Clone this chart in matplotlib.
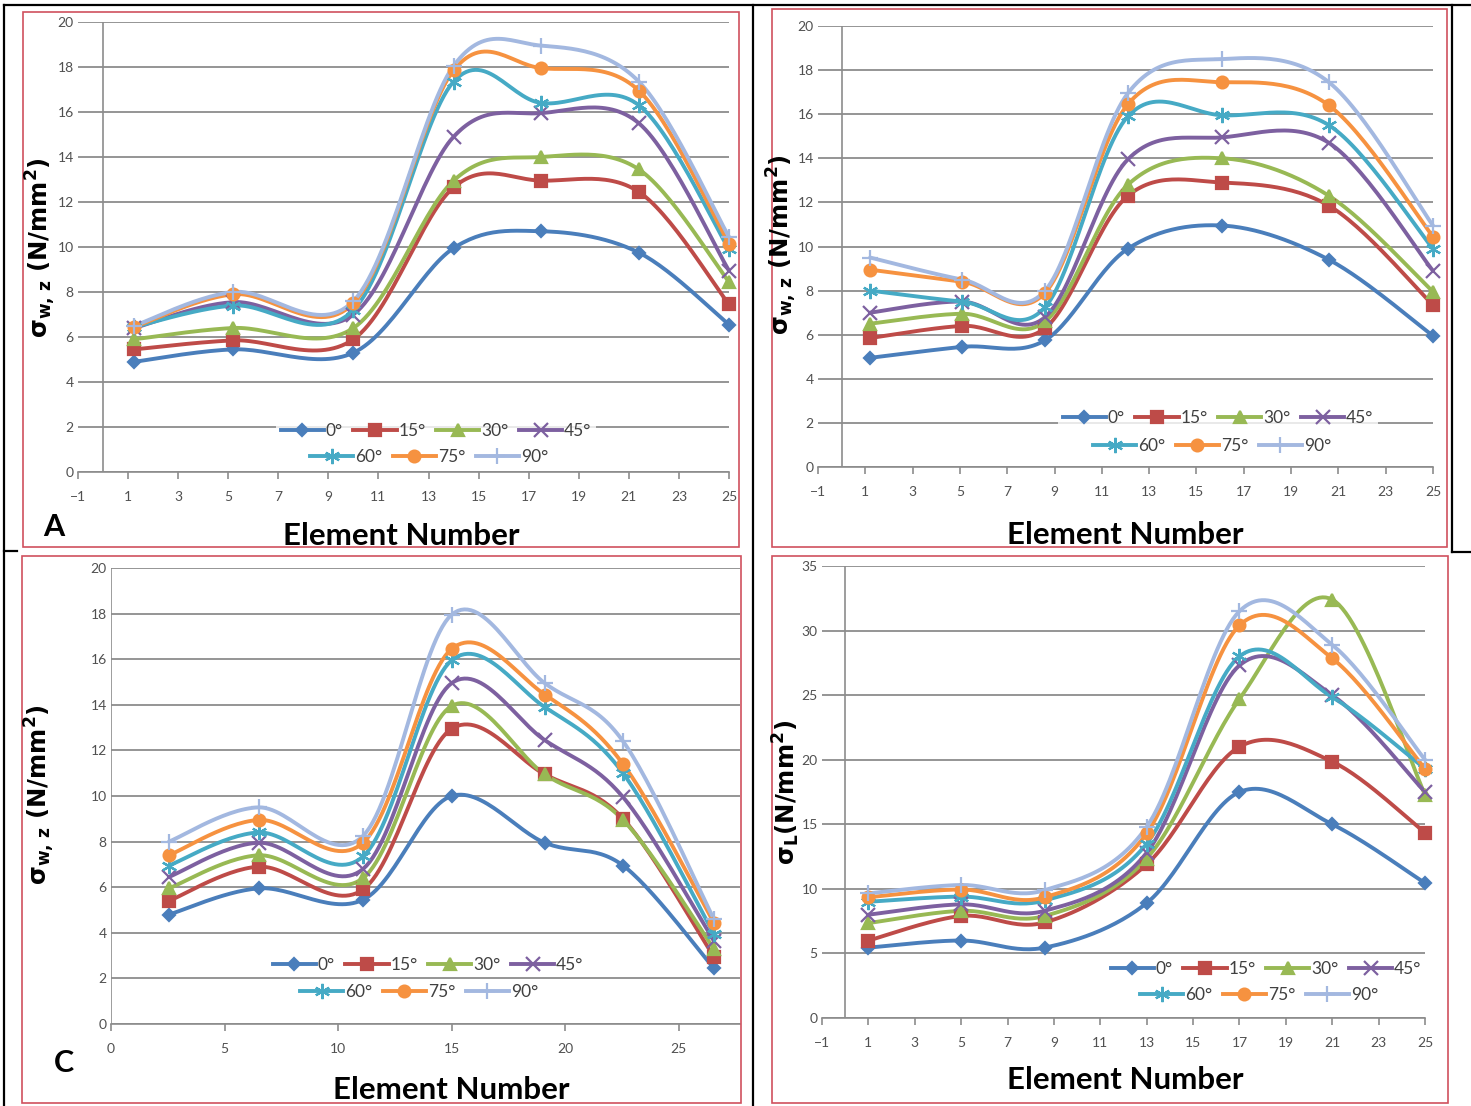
import numpy as np
import matplotlib
matplotlib.use("Agg")
import matplotlib.pyplot as plt
from matplotlib.lines import Line2D
from matplotlib.patches import Rectangle

# ---------------- data ----------------
labels = ["0°", "15°", "30°", "45°", "60°", "75°", "90°"]

xA = [1.25, 5.2, 10.0, 14.0, 17.5, 21.4, 25.0]
A_0 = [4.9, 5.45, 5.3, 9.95, 10.7, 9.75, 6.55]
A_15 = [5.45, 5.85, 5.9, 12.65, 12.95, 12.45, 7.45]
A_30 = [5.9, 6.4, 6.4, 12.95, 14.0, 13.45, 8.45]
A_45 = [6.4, 7.55, 7.0, 14.9, 15.95, 15.5, 8.95]
A_60 = [6.45, 7.4, 7.2, 17.35, 16.4, 16.3, 9.9]
A_75 = [6.45, 7.9, 7.5, 17.85, 17.95, 16.95, 10.15]
A_90 = [6.5, 8.0, 7.6, 18.05, 18.95, 17.35, 10.45]

xB = [1.2, 5.1, 8.6, 12.1, 16.1, 20.6, 25.0]
B_0 = [4.95, 5.45, 5.75, 9.9, 10.95, 9.4, 5.95]
B_15 = [5.85, 6.4, 6.3, 12.3, 12.9, 11.85, 7.35]
B_30 = [6.5, 6.95, 6.6, 12.8, 14.0, 12.3, 7.95]
B_45 = [7.0, 7.5, 6.8, 13.95, 14.95, 14.7, 8.9]
B_60 = [8.0, 7.5, 7.25, 15.9, 15.95, 15.5, 9.9]
B_75 = [8.95, 8.4, 7.9, 16.45, 17.45, 16.4, 10.45]
B_90 = [9.5, 8.5, 8.0, 16.95, 18.5, 17.45, 10.95]

xC = [2.55, 6.5, 11.1, 15.0, 19.1, 22.55, 26.55]
C_0 = [4.8, 5.95, 5.45, 10.0, 7.95, 6.95, 2.45]
C_15 = [5.4, 6.9, 5.9, 12.95, 10.95, 9.0, 2.95]
C_30 = [5.95, 7.4, 6.4, 13.95, 10.95, 8.95, 3.3]
C_45 = [6.45, 7.95, 6.8, 14.95, 12.45, 9.95, 3.65]
C_60 = [6.95, 8.4, 7.35, 15.95, 13.9, 11.0, 3.95]
C_75 = [7.4, 8.95, 7.95, 16.45, 14.45, 11.4, 4.45]
C_90 = [8.0, 9.5, 8.25, 17.95, 14.95, 12.4, 4.6]

xD = [1.0, 5.0, 8.6, 13.0, 17.0, 21.0, 25.0]
D_0 = [5.45, 6.0, 5.45, 8.9, 17.5, 15.0, 10.45]
D_15 = [6.0, 7.9, 7.4, 11.9, 21.0, 19.85, 14.35]
D_30 = [7.35, 8.3, 7.9, 12.35, 24.7, 32.4, 17.3]
D_45 = [8.0, 8.8, 8.3, 12.8, 27.3, 25.0, 17.5]
D_60 = [9.0, 9.4, 9.1, 13.5, 28.0, 24.85, 19.3]
D_75 = [9.35, 9.95, 9.35, 14.3, 30.4, 27.85, 19.3]
D_90 = [9.65, 10.3, 9.9, 14.8, 31.5, 28.9, 20.0]

ticks_odd = [-1, 1, 3, 5, 7, 9, 11, 13, 15, 17, 19, 21, 23, 25]
ticks_C = [0, 5, 10, 15, 20, 25]
yticks_20 = [0, 2, 4, 6, 8, 10, 12, 14, 16, 18, 20]
yticks_35 = [0, 5, 10, 15, 20, 25, 30, 35]

# ---------------- style ----------------
colors = ["#4A7EBB", "#BE4B48", "#98B954", "#7D60A0", "#46AAC5", "#F69240", "#A3B8E0"]
markers = ["D", "s", "^", "x", (6, 2, 0), "o", "+"]
msizes = [6, 8, 8, 10, 11, 8.5, 11]
GRAY = "#8C8C8C"
TICKFONT = ["Lato", "DejaVu Sans"]
LABFONT = ["Lato", "DejaVu Sans"]

W, H = 1471, 1106
fig = plt.figure(figsize=(W / 100, H / 100), dpi=100)
plt.rcParams["mathtext.fontset"] = "dejavusans"


def fx(px):
    return px / W


def fy(py):
    return 1 - py / H


def smooth(x, y, n=30):
    P = np.column_stack([np.asarray(x, float), np.asarray(y, float)])
    Pe = np.vstack([P[0], P, P[-1]])
    t = np.linspace(0, 1, n)[:, None]
    out = []
    for i in range(len(P) - 1):
        p0, p1, p2, p3 = Pe[i], Pe[i + 1], Pe[i + 2], Pe[i + 3]
        c1 = p1 + (p2 - p0) / 6
        c2 = p2 - (p3 - p1) / 6
        seg = (1 - t) ** 3 * p1 + 3 * (1 - t) ** 2 * t * c1 + 3 * (1 - t) * t ** 2 * c2 + t ** 3 * p2
        out.append(seg if i == 0 else seg[1:])
    out = np.vstack(out)
    return out[:, 0], out[:, 1]


def handles():
    hs = []
    for c, m, ms in zip(colors, markers, msizes):
        hs.append(Line2D([], [], color=c, lw=2.8, marker=m, markersize=ms,
                         markerfacecolor=c, markeredgecolor=c, markeredgewidth=1.6))
    return hs


def panel(box, xlim, ylim, xticks, yticks, xs, series, yaxis_at, leg1, leg2):
    l, t, r, b = box
    ax = fig.add_axes([fx(l), fy(b), fx(r) - fx(l), fy(t) - fy(b)])
    ax.set_xlim(xlim)
    ax.set_ylim(ylim)
    for s in ["top", "right", "left"]:
        ax.spines[s].set_visible(False)
    ax.spines["bottom"].set_color(GRAY)
    ax.spines["bottom"].set_linewidth(1.2)
    ax.axvline(yaxis_at, color=GRAY, lw=1.2, zorder=1)
    ax.set_xticks(xticks)
    ax.set_yticks(yticks)
    ax.grid(axis="y", color=GRAY, lw=1.3, zorder=0)
    ax.set_axisbelow(True)
    ax.tick_params(axis="y", length=0, pad=3, labelsize=10, labelcolor="#505050")
    ax.tick_params(axis="x", length=5, width=1.2, color=GRAY, direction="out", pad=9,
                   labelsize=10, labelcolor="#505050")
    for lab in ax.get_xticklabels() + ax.get_yticklabels():
        lab.set_family(TICKFONT)
    for ys, c, m, ms in zip(series, colors, markers, msizes):
        sx, sy = smooth(xs, ys)
        ax.plot(sx, sy, color=c, lw=2.8, zorder=3, clip_on=False, solid_capstyle="round")
        ax.plot(xs, ys, ls="none", marker=m, markersize=ms, color=c, markerfacecolor=c,
                markeredgecolor=c, markeredgewidth=1.6, zorder=4, clip_on=False)
    hs = handles()
    common = dict(loc="center", bbox_transform=fig.transFigure, frameon=True,
                  handlelength=2.5, handletextpad=0.1, columnspacing=0.6,
                  borderpad=0.25, borderaxespad=0,
                  prop={"family": LABFONT, "size": 12.5}, labelcolor="#404040")
    lg1 = ax.legend(hs[:4], labels[:4], ncol=4, bbox_to_anchor=(fx(leg1[0]), fy(leg1[1])), **common)
    lg1.get_frame().set_facecolor("white")
    lg1.get_frame().set_edgecolor("none")
    lg1.get_frame().set_boxstyle("square", pad=0)
    ax.add_artist(lg1)
    lg2 = ax.legend(hs[4:], labels[4:], ncol=3, bbox_to_anchor=(fx(leg2[0]), fy(leg2[1])), **common)
    lg2.get_frame().set_facecolor("white")
    lg2.get_frame().set_edgecolor("none")
    lg2.get_frame().set_boxstyle("square", pad=0)
    return ax


panel((78, 22, 729, 472), (-1, 25), (0, 20), ticks_odd, yticks_20, xA,
      [A_0, A_15, A_30, A_45, A_60, A_75, A_90], 0, (436, 431), (429, 457))
panel((818, 26, 1433, 467), (-1, 25), (0, 20), ticks_odd, yticks_20, xB,
      [B_0, B_15, B_30, B_45, B_60, B_75, B_90], 0, (1218, 418), (1212, 446))
panel((111, 568, 740, 1024), (0, 27.7), (0, 20), ticks_C, yticks_20, xC,
      [C_0, C_15, C_30, C_45, C_60, C_75, C_90], 0, (428, 965), (419, 992))
panel((822, 566, 1425, 1018), (-1, 25), (0, 35), ticks_odd, yticks_35, xD,
      [D_0, D_15, D_30, D_45, D_60, D_75, D_90], 0, (1266, 969), (1259, 995))

# axis titles
ylab = "σ$_{\\mathbf{w,\\,z}}$ (N/mm$^{\\mathbf{2}}$)"
for (x, y) in [(41, 248), (782, 245), (40, 795)]:
    fig.text(fx(x), fy(y), ylab, rotation=90, ha="center", va="center",
             fontsize=17.5, fontweight="bold", family="DejaVu Sans")
fig.text(fx(786), fy(792), "σ$_{\\mathbf{L}}$(N/mm$^{\\mathbf{2}}$)", rotation=90,
         ha="center", va="center", fontsize=17.5, fontweight="bold", family="DejaVu Sans")
for (x, y) in [(401, 536), (1125, 535), (451, 1090), (1125, 1080)]:
    fig.text(fx(x), fy(y), "Element Number", ha="center", va="center",
             fontsize=22.5, fontweight="bold", family=LABFONT)
fig.text(fx(54), fy(527), "A", ha="center", va="center", fontsize=22, fontweight="bold", family=LABFONT)
fig.text(fx(64), fy(1063), "C", ha="center", va="center", fontsize=22, fontweight="bold", family=LABFONT)

# red frames
for (l, t, r, b) in [(23, 12, 739, 547), (772, 9, 1447, 547), (22, 556, 741, 1103), (772, 556, 1448, 1103)]:
    fig.add_artist(Rectangle((fx(l), fy(b)), fx(r) - fx(l), fy(t) - fy(b), transform=fig.transFigure,
                             fill=False, edgecolor="#D0505E", lw=1.2))

# black table lines
def bline(x0, y0, x1, y1):
    fig.add_artist(Line2D([fx(x0), fx(x1)], [fy(y0), fy(y1)], transform=fig.transFigure,
                          color="black", lw=1.6))

bline(4, 5, 1471, 5)
bline(4, 5, 4, 1106)
bline(753, 5, 753, 1106)
bline(1452, 5, 1452, 552)
bline(1452, 552, 1471, 552)
bline(4, 551, 17, 551)

fig.savefig("out.png", dpi=100)
